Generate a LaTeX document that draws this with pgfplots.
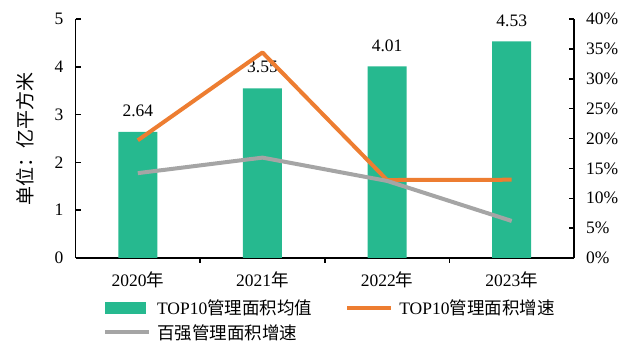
\documentclass[border=0pt]{standalone}
\usepackage{fontspec}
\setmainfont{Liberation Serif}
\newfontfamily\cjk{Noto Sans CJK SC}
\usepackage{pgfplots}
\pgfplotsset{compat=1.18}
\definecolor{cgreen}{RGB}{38,185,143}
\definecolor{corange}{RGB}{237,125,49}
\definecolor{cgray}{RGB}{165,165,165}
\newcommand\ff{\fontsize{17.5bp}{21bp}\selectfont}
\begin{document}
\begin{tikzpicture}
\useasboundingbox (0,0) rectangle (627bp,349bp);
\begin{axis}[
  at={(75.5bp,91bp)}, anchor=south west,
  scale only axis, width=498.5bp, height=239bp,
  xmin=-0.5, xmax=3.5, ymin=0, ymax=5,
  axis x line*=bottom, axis y line*=left,
  axis line style={line width=1.5bp, black, -},
  every outer x axis line/.append style={-},
  every outer y axis line/.append style={-},
  xtick={0.5,1.5,2.5}, xticklabels={},
  extra x ticks={0,1,2,3},
  extra x tick labels={2020{\cjk 年},2021{\cjk 年},2022{\cjk 年},2023{\cjk 年}},
  extra x tick style={major tick length=0pt},
  ytick={0,1,2,3,4,5},
  tick align=inside, major tick length=5bp,
  tick style={line width=1.5bp, black},
  every tick label/.append style={font=\ff},
  /pgf/number format/assume math mode=true,
  xticklabel style={inner sep=0pt, anchor=north, yshift=-14bp},
  yticklabel style={inner sep=0pt, anchor=east, xshift=-12bp},
  ylabel={\cjk 单位：亿平方米},
  ylabel style={at={(axis description cs:-0.1013,0.5)}, anchor=center, font=\fontsize{19bp}{22bp}\selectfont},
  ybar, bar width=39bp, bar shift=0pt,
  nodes near coords={\pgfmathprintnumber[fixed,fixed zerofill,precision=2,assume math mode=true]{\pgfplotspointmeta}},
  every node near coord/.append style={font=\ff, anchor=center, yshift=21bp, inner sep=0pt, black},
]
\addplot[fill=cgreen, draw=none] coordinates {(0,2.64) (1,3.55) (2,4.01) (3,4.53)};
\end{axis}
\begin{axis}[
  at={(75.5bp,91bp)}, anchor=south west,
  scale only axis, width=498.5bp, height=239bp,
  xmin=-0.5, xmax=3.5, ymin=0, ymax=40,
  axis x line=none, axis y line*=right,
  axis line style={line width=1.5bp, black, -},
  every outer y axis line/.append style={-},
  ytick={0,5,...,40},
  yticklabel={\pgfmathprintnumber{\tick}\%},
  tick align=inside, major tick length=5bp,
  tick style={line width=1.5bp, black},
  every tick label/.append style={font=\ff},
  /pgf/number format/assume math mode=true,
  yticklabel style={inner sep=0pt, anchor=west, xshift=12bp},
  legend columns=2,
  legend cell align=left,
  legend style={at={(0.0552,-0.176)}, anchor=north west, draw=none, fill=none,
    inner sep=0pt, outer sep=0pt, font=\ff, row sep=8bp,
    nodes={inner sep=0pt},
    /tikz/every odd column/.append style={column sep=6bp},
    /tikz/every even column/.append style={column sep=33bp}},
]
\addlegendimage{legend image code/.code={\fill[cgreen] (0bp,-5.5bp) rectangle (40bp,5.5bp);}}
\addlegendentry{TOP10{\cjk 管理面积均值}}
\addplot[corange, line width=4bp, line join=round,
  legend image code/.code={\draw[corange, line width=4bp] (0bp,0bp) -- (44bp,0bp);}]
  coordinates {(0,19.7) (1,34.4) (2,13.05) (3,13.1)};
\addlegendentry{TOP10{\cjk 管理面积增速}}
\addplot[cgray, line width=4bp, line join=round,
  legend image code/.code={\draw[cgray, line width=4bp] (0bp,0bp) -- (44bp,0bp);}]
  coordinates {(0,14.2) (1,16.8) (2,12.9) (3,6.2)};
\addlegendentry{{\cjk 百强管理面积增速}}
\end{axis}
\end{tikzpicture}
\end{document}
